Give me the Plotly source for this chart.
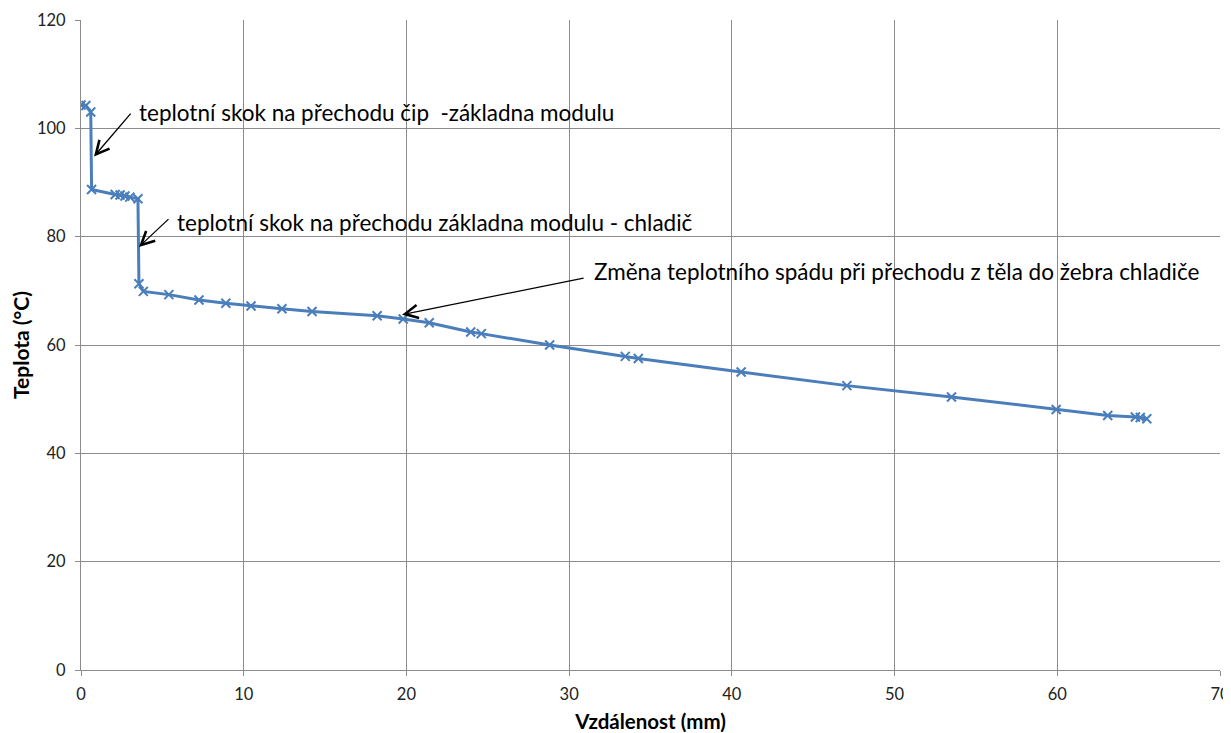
import plotly.graph_objects as go

distance_mm = [0.0, 0.3, 0.6, 0.65, 2.1, 2.4, 2.7, 3.0, 3.5, 3.56, 3.83, 5.4, 7.25, 8.9,
               10.45, 12.35, 14.2, 18.2, 19.8, 21.4, 23.95, 24.6, 28.8, 33.45, 34.25,
               40.57, 47.07, 53.5, 59.93, 63.1, 64.8, 65.1, 65.5]
temperature_c = [104.3, 104.2, 103.0, 88.7, 87.8, 87.7, 87.5, 87.3, 87.0, 71.3, 69.9, 69.3,
                 68.3, 67.7, 67.2, 66.7, 66.2, 65.4, 64.8, 64.1, 62.4, 62.1, 60.0, 57.9,
                 57.5, 55.0, 52.5, 50.4, 48.1, 47.0, 46.7, 46.6, 46.4]

x_ticks = [0, 10, 20, 30, 40, 50, 60, 70]
y_ticks = [0, 20, 40, 60, 80, 100, 120]

notes = [
    "teplotní skok na přechodu čip  -základna modulu",
    "teplotní skok na přechodu základna modulu - chladič",
    "Změna teplotního spádu při přechodu z těla do žebra chladiče",
]
note_text_xy = [(3.45, 103.0), (5.8, 82.7), (31.4, 73.5)]
note_tip_xy = [(0.8, 94.8), (3.56, 78.1), (19.73, 65.6)]
note_tail_xy = [(3.13, 103.0), (5.47, 83.5), (30.98, 72.4)]

blue = "#4A7EBB"
font_fam = "Lato, 'Open Sans', sans-serif"

fig = go.Figure()
fig.add_trace(go.Scatter(
    x=distance_mm, y=temperature_c, mode="lines+markers",
    line=dict(color=blue, width=3),
    marker=dict(symbol="x-thin", size=9, line=dict(color=blue, width=2), color=blue),
    showlegend=False, hoverinfo="x+y",
))

annotations = []
for txt, (tx, ty), (hx, hy), (ax, ay) in zip(notes, note_text_xy, note_tip_xy, note_tail_xy):
    annotations.append(dict(
        x=hx, y=hy, ax=ax, ay=ay, xref="x", yref="y", axref="x", ayref="y",
        text="", showarrow=True, arrowhead=5, arrowsize=2.0, arrowwidth=1.3,
        arrowcolor="black", standoff=0, startstandoff=0,
    ))
    annotations.append(dict(
        x=tx, y=ty, xref="x", yref="y", text=txt, showarrow=False,
        xanchor="left", yanchor="middle",
        font=dict(family=font_fam, size=22.5, color="black"),
    ))

# the page body adds an 8px margin, so the figure is sized and margined to compensate
fig.update_layout(
    width=1223, height=725,
    margin=dict(l=73, r=11, t=12, b=63),
    paper_bgcolor="white", plot_bgcolor="white",
    annotations=annotations,
    font=dict(family=font_fam, color="#222222"),
    xaxis=dict(
        range=[0, 70], tickvals=x_ticks, showgrid=True, gridcolor="#8c8c8c", gridwidth=1,
        zeroline=False, showline=True, linecolor="#8c8c8c", linewidth=1, mirror=False,
        ticks="outside", ticklen=5, tickcolor="#8c8c8c", automargin=False,
        ticklabelstandoff=4,
        tickfont=dict(size=16.5, color="#222222", family=font_fam),
        title=dict(text="<b>Vzdálenost (mm)</b>", font=dict(size=20.5, color="black", family=font_fam),
                   standoff=12),
    ),
    yaxis=dict(
        range=[0, 120], tickvals=y_ticks, showgrid=True, gridcolor="#8c8c8c", gridwidth=1,
        zeroline=False, showline=True, linecolor="#8c8c8c", linewidth=1,
        ticks="outside", ticklen=5, tickcolor="#8c8c8c", automargin=False,
        ticklabelstandoff=6,
        tickfont=dict(size=16.5, color="#222222", family=font_fam),
        title=dict(text="<b>Teplota (°C)</b>", font=dict(size=21, color="black", family=font_fam),
                   standoff=8),
    ),
)

fig.write_html("out.html")
